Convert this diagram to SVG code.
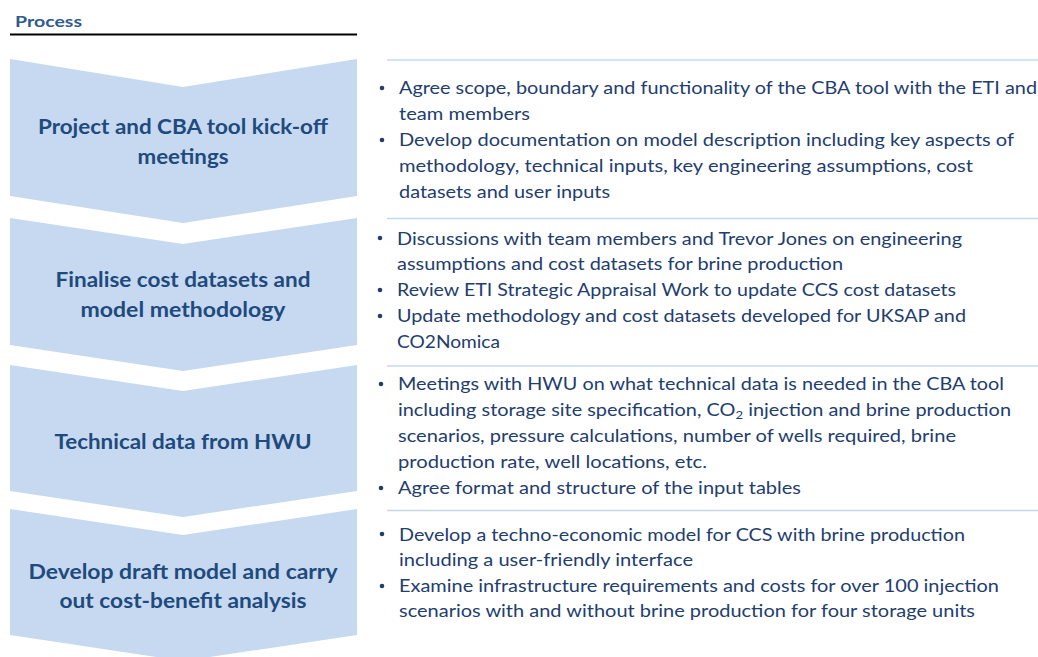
<svg xmlns="http://www.w3.org/2000/svg" width="1038" height="657" viewBox="0 0 1038 657">
  <style>
    .chev { fill: #c6d9f0; }
    .title { font-family: Lato, "Liberation Sans", sans-serif; font-weight: bold; font-size: 20px; fill: #1f4a7d; text-anchor: middle; }
    .body { font-family: Lato, "Liberation Sans", sans-serif; font-size: 17.5px; fill: #223d6e; }
    .sep { stroke: #c6d8ef; stroke-width: 1.5; }
    .dot { fill: #223d6e; }
    .head { font-family: Lato, "Liberation Sans", sans-serif; font-weight: bold; font-size: 16px; fill: #2f5b8e; }
  </style>
  <rect width="1038" height="657" fill="#ffffff"/>

  <!-- header -->
  <text class="head" x="15" y="27" textLength="67" lengthAdjust="spacingAndGlyphs">Process</text>
  <line x1="10" y1="34.5" x2="357" y2="34.5" stroke="#000000" stroke-width="2"/>

  <!-- separators between the step descriptions -->
  <g id="connectors">
    <line class="sep" x1="387" y1="60" x2="1038" y2="60"/>
    <line class="sep" x1="387" y1="218.5" x2="1038" y2="218.5"/>
    <line class="sep" x1="387" y1="366" x2="1038" y2="366"/>
    <line class="sep" x1="387" y1="510.5" x2="1038" y2="510.5"/>
  </g>

  <!-- step 1 -->
  <g id="step1">
    <polygon class="chev" points="10,59 183,87 357,59 357,196 183,223 10,196"/>
    <text class="title" x="183" y="134" textLength="290" lengthAdjust="spacingAndGlyphs">Project and CBA tool kick-off</text>
    <text class="title" x="183" y="164" textLength="91" lengthAdjust="spacingAndGlyphs">meetings</text>
    <circle class="dot" cx="382" cy="88" r="2.3"/>
    <circle class="dot" cx="382" cy="140" r="2.3"/>
    <text class="body" x="399" y="94" textLength="638" lengthAdjust="spacingAndGlyphs">Agree scope, boundary and functionality of the CBA tool with the ETI and</text>
    <text class="body" x="399" y="120" textLength="131" lengthAdjust="spacingAndGlyphs">team members</text>
    <text class="body" x="399" y="146" textLength="615" lengthAdjust="spacingAndGlyphs">Develop documentation on model description including key aspects of</text>
    <text class="body" x="399" y="172" textLength="574" lengthAdjust="spacingAndGlyphs">methodology, technical inputs, key engineering assumptions, cost</text>
    <text class="body" x="399" y="198" textLength="211" lengthAdjust="spacingAndGlyphs">datasets and user inputs</text>
  </g>

  <!-- step 2 -->
  <g id="step2">
    <polygon class="chev" points="10,218 183,244 357,218 357,345 183,371 10,345"/>
    <text class="title" x="183" y="287" textLength="255" lengthAdjust="spacingAndGlyphs">Finalise cost datasets and</text>
    <text class="title" x="183" y="317" textLength="205" lengthAdjust="spacingAndGlyphs">model methodology</text>
    <circle class="dot" cx="380" cy="238" r="2.3"/>
    <circle class="dot" cx="380" cy="290" r="2.3"/>
    <circle class="dot" cx="380" cy="316" r="2.3"/>
    <text class="body" x="397" y="245" textLength="565" lengthAdjust="spacingAndGlyphs">Discussions with team members and Trevor Jones on engineering</text>
    <text class="body" x="397" y="270" textLength="446" lengthAdjust="spacingAndGlyphs">assumptions and cost datasets for brine production</text>
    <text class="body" x="397" y="296" textLength="559" lengthAdjust="spacingAndGlyphs">Review ETI Strategic Appraisal Work to update CCS cost datasets</text>
    <text class="body" x="397" y="322" textLength="569" lengthAdjust="spacingAndGlyphs">Update methodology and cost datasets developed for UKSAP and</text>
    <text class="body" x="397" y="348" textLength="103" lengthAdjust="spacingAndGlyphs">CO2Nomica</text>
  </g>

  <!-- step 3 -->
  <g id="step3">
    <polygon class="chev" points="10,365 183,391 357,365 357,491 183,517 10,491"/>
    <text class="title" x="183" y="449" textLength="257" lengthAdjust="spacingAndGlyphs">Technical data from HWU</text>
    <circle class="dot" cx="381" cy="384" r="2.3"/>
    <circle class="dot" cx="381" cy="488" r="2.3"/>
    <text class="body" x="398" y="390" textLength="606" lengthAdjust="spacingAndGlyphs">Meetings with HWU on what technical data is needed in the CBA tool</text>
    <text class="body" x="398" y="416" textLength="613" lengthAdjust="spacingAndGlyphs">including storage site specification, CO<tspan font-size="11.5" dy="3">2</tspan><tspan dy="-3"> injection and brine production</tspan></text>
    <text class="body" x="398" y="442" textLength="558" lengthAdjust="spacingAndGlyphs">scenarios, pressure calculations, number of wells required, brine</text>
    <text class="body" x="398" y="468" textLength="309" lengthAdjust="spacingAndGlyphs">production rate, well locations, etc.</text>
    <text class="body" x="398" y="494" textLength="403" lengthAdjust="spacingAndGlyphs">Agree format and structure of the input tables</text>
  </g>

  <!-- step 4 -->
  <g id="step4">
    <polygon class="chev" points="10,509 183,535 357,509 357,635 183,661 10,635"/>
    <text class="title" x="183" y="579" textLength="309" lengthAdjust="spacingAndGlyphs">Develop draft model and carry</text>
    <text class="title" x="183" y="608" textLength="247" lengthAdjust="spacingAndGlyphs">out cost-benefit analysis</text>
    <circle class="dot" cx="382" cy="534" r="2.3"/>
    <circle class="dot" cx="382" cy="586" r="2.3"/>
    <text class="body" x="399" y="541" textLength="566" lengthAdjust="spacingAndGlyphs">Develop a techno-economic model for CCS with brine production</text>
    <text class="body" x="399" y="566" textLength="294" lengthAdjust="spacingAndGlyphs">including a user-friendly interface</text>
    <text class="body" x="399" y="592" textLength="600" lengthAdjust="spacingAndGlyphs">Examine infrastructure requirements and costs for over 100 injection</text>
    <text class="body" x="399" y="617" textLength="576" lengthAdjust="spacingAndGlyphs">scenarios with and without brine production for four storage units</text>
  </g>
</svg>
